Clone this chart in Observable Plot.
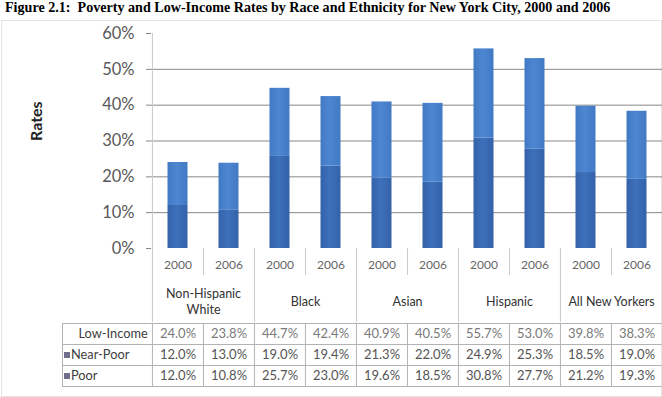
<!DOCTYPE html>
<html><head><meta charset="utf-8">
<script src="https://cdn.jsdelivr.net/npm/d3@7"></script>
<script src="https://cdn.jsdelivr.net/npm/@observablehq/plot@0.6"></script>
<style>
body{margin:0;background:#fff;width:662px;height:397px;overflow:hidden;position:relative;font-family:Lato,sans-serif}
#title{position:absolute;left:5px;top:0px;font:bold 14.1px/15px "Liberation Serif","Times New Roman",serif;color:#000;white-space:nowrap}
#box{position:absolute;left:1px;top:20px;width:659px;height:375px;border:1px solid #e4e4e4}
#chart{position:absolute;left:0;top:20px}
#table{position:absolute;left:0;top:322px}
</style></head><body>
<div id="title">Figure 2.1:&nbsp; Poverty and Low-Income Rates by Race and Ethnicity for New York City, 2000 and 2006</div>
<div id="box"></div>
<div id="chart"></div>
<div id="table"></div>
<script>
const groups = ["Non-Hispanic White", "Black", "Asian", "Hispanic", "All New Yorkers"];
const groupLabels = ["Non-Hispanic\nWhite", "Black", "Asian", "Hispanic", "All New Yorkers"];
const years = ["2000", "2006"];
const lowIncome = [24.0, 23.8, 44.7, 42.4, 40.9, 40.5, 55.7, 53.0, 39.8, 38.3];
const nearPoor  = [12.0, 13.0, 19.0, 19.4, 21.3, 22.0, 24.9, 25.3, 18.5, 19.0];
const poor      = [12.0, 10.8, 25.7, 23.0, 19.6, 18.5, 30.8, 27.7, 21.2, 19.3];
const yTicks = [0, 10, 20, 30, 40, 50, 60];
const rows = ["Low-Income", "Near-Poor", "Poor"];

const keys = groups.flatMap(g => years.map(y => g + "|" + y));
const barData = [];
keys.forEach((k, i) => {
  barData.push({key: k, type: "Poor", value: poor[i]});
  barData.push({key: k, type: "Near-Poor", value: nearPoor[i]});
});
const tableData = [];
keys.forEach((k, i) => {
  tableData.push({key: k, row: "Low-Income", v: lowIncome[i]});
  tableData.push({key: k, row: "Near-Poor", v: nearPoor[i]});
  tableData.push({key: k, row: "Poor", v: poor[i]});
});
const W = 662, L = 151;
const bw = (W - L) / keys.length;
const firstKeys = keys.filter(k => k.endsWith("|2000"));
const sepColor = "#c9c9c9";

const chart = Plot.plot({
  width: W, height: 302,
  marginLeft: L, marginRight: 0, marginTop: 13, marginBottom: 74,
  style: {fontFamily: "Lato, sans-serif", background: "transparent", overflow: "visible"},
  x: {type: "band", domain: keys, padding: 0},
  y: {domain: [0, 60]},
  color: {domain: ["Poor", "Near-Poor"], range: ["url(#gPoor)", "url(#gNear)"]},
  marks: [
    Plot.gridY(yTicks.filter(t => t > 0 && t < 60), {stroke: "#888", strokeOpacity: 1}),
    Plot.ruleX([keys[0]], {dx: -bw / 2, stroke: sepColor}),
    Plot.axisY(yTicks, {tickSize: 5, tickPadding: 12, tickFormat: d => d + "%", fontSize: 16.5, stroke: "#888", fill: "#595959", label: null}),
    Plot.barY(barData, {x: "key", y: "value", fill: "type", insetLeft: 15.5, insetRight: 15.5, order: ["Poor", "Near-Poor"]}),
    Plot.axisX({tickSize: 0, tickPadding: 12, tickFormat: k => k.split("|")[1], fontSize: 12, fill: "#666", label: null}),
    Plot.axisX(firstKeys, {tickSize: 27, dx: bw / 2, tickFormat: () => "", stroke: sepColor, label: null}),
    Plot.axisX(firstKeys, {tickSize: 74, dx: -bw / 2, tickFormat: () => "", stroke: sepColor, label: null}),
    Plot.text(groups, {x: g => g + "|2000", text: (g, i) => groupLabels[i], frameAnchor: "bottom", lineAnchor: "middle", dx: bw / 2, dy: 52, fontSize: 12.5, lineHeight: 1.28, fill: "#333"}),
    Plot.text(["Rates"], {frameAnchor: "left", rotate: -90, dx: -115, fontSize: 16, fontWeight: "bold", fill: "#222"})
  ]
});
const defs = d3.select(chart).insert("defs", ":first-child");
function grad(id, edge, mid) {
  const g = defs.append("linearGradient").attr("id", id).attr("x1", "0").attr("x2", "1").attr("y1", "0").attr("y2", "0");
  g.append("stop").attr("offset", "0%").attr("stop-color", edge);
  g.append("stop").attr("offset", "45%").attr("stop-color", mid);
  g.append("stop").attr("offset", "100%").attr("stop-color", edge);
}
grad("gPoor", "#3462a8", "#3d70bb");
grad("gNear", "#4279c4", "#4d87d1");
document.getElementById("chart").appendChild(chart);

const table = Plot.plot({
  width: W, height: 75,
  marginLeft: 62, marginRight: 0, marginTop: 1, marginBottom: 11,
  style: {fontFamily: "Lato, sans-serif", background: "transparent", overflow: "visible"},
  x: {type: "band", domain: keys, range: [L, W], padding: 0, axis: null},
  y: {type: "band", domain: rows, padding: 0, axis: null},
  marks: [
    Plot.frame({stroke: "#b3b3b3"}),
    Plot.ruleY(rows.slice(1), {dy: -10.5, stroke: "#b3b3b3"}),
    Plot.ruleX(keys, {dx: -bw / 2, stroke: "#b3b3b3"}),
    Plot.text(tableData.filter(d => d.row === "Low-Income"), {x: "key", y: "row", text: d => d.v.toFixed(1) + "%", fontSize: 13, fill: "#7a7a7a"}),
    Plot.text(tableData.filter(d => d.row !== "Low-Income"), {x: "key", y: "row", text: d => d.v.toFixed(1) + "%", fontSize: 13, fill: "#555"}),
    Plot.text(["Low-Income"], {y: d => d, frameAnchor: "left", textAnchor: "start", dx: 16, fontSize: 12.8, fill: "#404040"}),
    Plot.text(["Near-Poor", "Poor"], {y: d => d, frameAnchor: "left", textAnchor: "start", dx: 8.5, fontSize: 12.8, fill: "#404040"}),
    Plot.dot(["Near-Poor", "Poor"], {y: d => d, frameAnchor: "left", dx: 4.5, symbol: "square", r: 3.4, fill: "#6e6e8c"})
  ]
});
document.getElementById("table").appendChild(table);
</script>
</body></html>
